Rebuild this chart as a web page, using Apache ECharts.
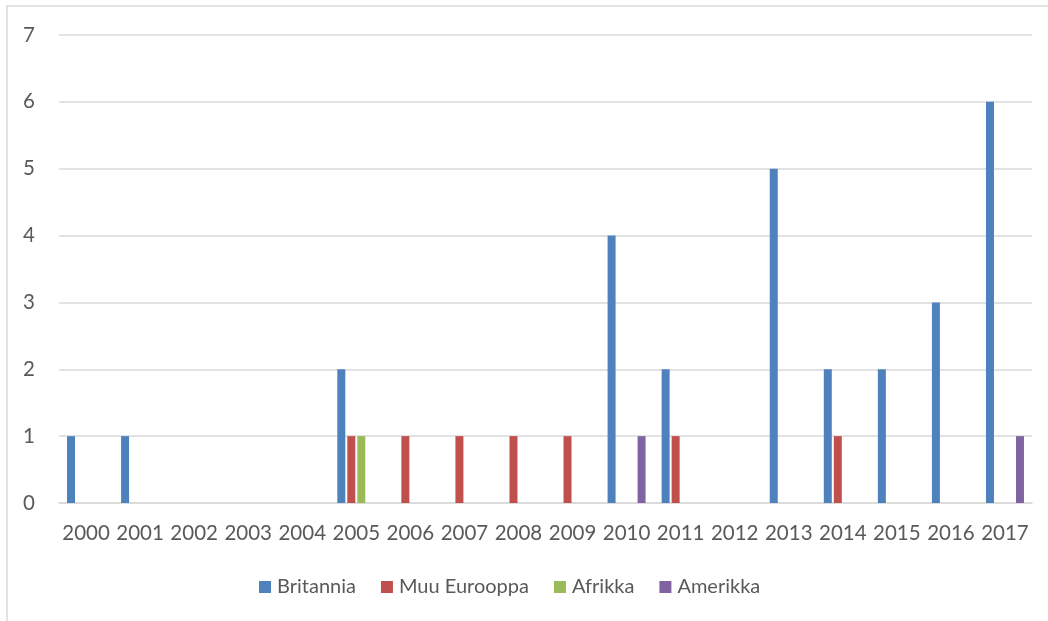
<!DOCTYPE html>
<html>
<head>
<meta charset="utf-8">
<script src="https://cdn.jsdelivr.net/npm/echarts@6/dist/echarts.min.js"></script>
<style>
html,body{margin:0;padding:0;background:#fff;}
#chart{width:1048px;height:621px;}
</style>
</head>
<body>
<div id="chart"></div>
<script>
var categories = ['2000','2001','2002','2003','2004','2005','2006','2007','2008','2009','2010','2011','2012','2013','2014','2015','2016','2017'];
var britannia   = [1,1,0,0,0,2,0,0,0,0,4,2,0,5,2,2,3,6];
var muuEurooppa = [0,0,0,0,0,1,1,1,1,1,0,1,0,0,1,0,0,0];
var afrikka     = [0,0,0,0,0,1,0,0,0,0,0,0,0,0,0,0,0,0];
var amerikka    = [0,0,0,0,0,0,0,0,0,0,1,0,0,0,0,0,0,1];
var yTicks = [0,1,2,3,4,5,6,7];

var chart = echarts.init(document.getElementById('chart'));
var font = 'Lato';
function bar(name, data, color){
  return {name:name, type:'bar', data:data.map(function(v){return v===0?null:v;}), barWidth:8, barGap:'25%',
    itemStyle:{color:color}, emphasis:{disabled:true}};
}
chart.setOption({
  animation:false,
  textStyle:{fontFamily:font},
  graphic:[{type:'rect', shape:{x:7,y:6,width:1200,height:800}, style:{fill:'none',stroke:'#d9d9d9',lineWidth:1.5}, silent:true}],
  grid:{left:59,right:16,top:35,bottom:118,containLabel:false},
  legend:{
    data:['Britannia','Muu Eurooppa','Afrikka','Amerikka'],
    left:259, top:577, padding:0, itemWidth:12, itemHeight:12, itemGap:25, icon:'rect',
    textStyle:{fontFamily:font,fontSize:20,color:'#595959',padding:[0,0,0,1]}
  },
  xAxis:{
    type:'category', data:categories,
    axisLine:{show:true,lineStyle:{color:'#d9d9d9',width:1.5}},
    axisTick:{show:false},
    axisLabel:{fontFamily:font,fontSize:20.5,color:'#595959',margin:20,interval:0}
  },
  yAxis:{
    type:'value', min:yTicks[0], max:yTicks[yTicks.length-1], interval:1,
    axisLine:{show:false}, axisTick:{show:false},
    splitLine:{lineStyle:{color:'#d9d9d9',width:1.5}},
    axisLabel:{fontFamily:font,fontSize:20.5,color:'#595959',margin:24}
  },
  series:[
    bar('Britannia', britannia, '#4F81BD'),
    bar('Muu Eurooppa', muuEurooppa, '#C0504D'),
    bar('Afrikka', afrikka, '#9BBB59'),
    bar('Amerikka', amerikka, '#8064A2')
  ]
});
</script>
</body>
</html>
